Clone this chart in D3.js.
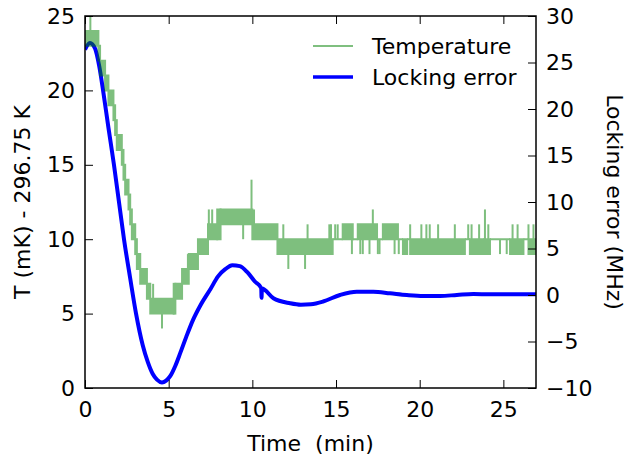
<!DOCTYPE html>
<html>
<head>
<meta charset="utf-8">
<script src="https://cdn.jsdelivr.net/npm/d3@7"></script>
<style>
  body { margin: 0; background: #fff; }
  text { font-family: "DejaVu Sans", sans-serif; }
</style>
</head>
<body>
<svg id="chart" width="636" height="455"></svg>
<script>
// temperature readings (mK above 296.75 K), stepwise: [t0, t1, low, high]
// where low != high the reading flickers between the two levels
const tempBands = [
  [0.00, 0.80, 23, 24], [0.80, 0.90, 22, 23], [0.90, 1.20, 21, 22],
  [1.20, 1.40, 20, 21], [1.40, 1.70, 19, 20], [1.70, 1.80, 18, 19],
  [1.80, 1.90, 17, 18], [1.90, 2.20, 16, 17], [2.20, 2.30, 15, 16],
  [2.30, 2.40, 14, 15], [2.40, 2.60, 13, 14], [2.60, 2.70, 12, 13],
  [2.70, 2.80, 11, 12], [2.80, 3.00, 10, 11], [3.00, 3.10, 9, 10],
  [3.10, 3.30, 8, 9], [3.30, 3.70, 7, 8], [3.70, 3.90, 6, 7],
  [3.90, 5.30, 5, 6], [5.30, 5.40, 5, 7], [5.40, 5.80, 6, 7],
  [5.80, 6.20, 7, 8], [6.20, 6.75, 8, 9], [6.75, 7.35, 9, 10],
  [7.35, 7.90, 10, 11], [7.90, 8.10, 10, 12], [8.10, 10.0, 11, 12],
  [10.0, 11.5, 10, 11], [11.5, 14.8, 9, 10], [14.8, 15.4, 10, 10],
  [15.4, 16.0, 10, 11], [16.0, 16.3, 10, 10], [16.3, 17.45, 10, 11],
  [17.45, 17.8, 10, 10], [17.8, 18.7, 10, 11], [18.7, 19.0, 10, 10],
  [19.0, 19.25, 9, 10], [19.25, 19.43, 10, 10], [19.43, 22.7, 9, 10],
  [22.7, 23.0, 10, 10], [23.0, 23.8, 9, 10], [23.8, 23.9, 10, 10],
  [23.9, 24.2, 9, 10], [24.2, 25.4, 10, 10], [25.4, 26.2, 9, 10],
  [26.2, 26.5, 10, 10], [26.5, 26.95, 9, 10]
];

// single-sample jumps: [t, from, to]
const tempSpikes = [
  [0.32, 24, 25], [4.07, 6, 7], [4.60, 5, 4], [6.15, 8, 9], [6.30, 8, 9],
  [7.40, 11, 12], [7.60, 11, 12], [9.45, 11, 10], [9.95, 12, 14], [10.10, 11, 12],
  [11.85, 10, 11], [12.15, 9, 8], [13.15, 9, 8], [13.30, 10, 11],
  [14.60, 10, 11], [14.70, 10, 11], [14.95, 10, 11], [15.10, 10, 11],
  [15.95, 10, 9], [16.45, 10, 9], [16.60, 10, 9], [17.00, 10, 9], [17.20, 11, 12],
  [17.50, 10, 9], [17.60, 10, 9], [18.50, 10, 9], [18.75, 10, 9],
  [19.43, 10, 11], [20.10, 10, 11], [20.40, 10, 11], [20.60, 10, 11],
  [21.10, 10, 11], [22.10, 10, 11], [22.90, 10, 11], [23.10, 10, 11],
  [23.55, 10, 11], [23.90, 10, 12], [24.10, 10, 11], [24.80, 10, 9],
  [25.20, 10, 9], [25.55, 10, 11], [25.85, 10, 11], [26.50, 10, 11], [26.80, 10, 11]
];

// locking error (MHz): [t, value]
const lockError = [
  [0, 26.4], [0.3, 27.1], [0.6, 26.5], [0.85, 24.6], [1.08, 22.0], [1.4, 18.0],
  [1.73, 14.0], [2.03, 10.0], [2.33, 6.0], [2.7, 1.8], [3.05, -2.0], [3.45, -5.4],
  [3.75, -7.2], [4.05, -8.5], [4.3, -9.1], [4.6, -9.4], [4.85, -9.2], [5.1, -8.7],
  [5.4, -7.6], [5.7, -6.2], [6.05, -4.5], [6.45, -2.7], [6.9, -1.1], [7.5, 0.65],
  [7.95, 2.0], [8.4, 2.8], [8.8, 3.2], [9.25, 3.1], [9.7, 2.45], [10.15, 1.45],
  [10.53, 0.75], [10.55, -0.3], [10.57, 0.7], [11.26, -0.35], [12.25, -0.89],
  [12.9, -1.05], [13.5, -1.0], [14.23, -0.7], [15.24, 0.0], [16.24, 0.35],
  [17.23, 0.35], [18.23, 0.18], [19.23, 0.0], [20.22, -0.1], [21.22, -0.1],
  [22.22, 0.0], [23.21, 0.1], [24.21, 0.08], [25.2, 0.08], [26.95, 0.08]
];

const xTicks = [0, 5, 10, 15, 20, 25];
const yLeftTicks = [0, 5, 10, 15, 20, 25];
const yRightTicks = [-10, -5, 0, 5, 10, 15, 20, 25, 30];
const legendItems = ["Temperature", "Locking error"];

// layout
const margin = { left: 85, right: 100, top: 16, bottom: 67 };
const width = 636, height = 455;
const plotW = width - margin.left - margin.right;
const plotH = height - margin.top - margin.bottom;

const svg = d3.select("svg#chart");

const x = d3.scaleLinear().domain([0, 26.95]).range([margin.left, margin.left + plotW]);
const yL = d3.scaleLinear().domain([0, 25]).range([margin.top + plotH, margin.top]);
const yR = d3.scaleLinear().domain([-10, 30]).range([margin.top + plotH, margin.top]);

svg.append("defs").append("clipPath").attr("id", "plot-clip")
  .append("rect")
  .attr("x", margin.left).attr("y", margin.top)
  .attr("width", plotW).attr("height", plotH);

const plot = svg.append("g").attr("clip-path", "url(#plot-clip)");

// locking error underneath
plot.append("path")
  .datum(lockError)
  .attr("fill", "none")
  .attr("stroke", "#0000ff")
  .attr("stroke-width", 4)
  .attr("stroke-linejoin", "round")
  .attr("d", d3.line().x(d => x(d[0])).y(d => yR(d[1])).curve(d3.curveMonotoneX));

// temperature on top, half transparent
const temp = plot.append("g").attr("opacity", 0.5);
temp.selectAll("path.band")
  .data(tempBands)
  .enter().append("path")
  .attr("class", "band")
  .attr("fill", "#008000")
  .attr("stroke", "#008000")
  .attr("stroke-width", 2)
  .attr("d", d => {
    const x0 = x(d[0]), x1 = x(d[1]), ylo = yL(d[2]), yhi = yL(d[3]);
    return "M" + x0 + "," + yhi + "H" + x1 + "V" + ylo + "H" + x0 + "Z";
  });
temp.selectAll("line.spike")
  .data(tempSpikes)
  .enter().append("line")
  .attr("class", "spike")
  .attr("x1", d => x(d[0])).attr("x2", d => x(d[0]))
  .attr("y1", d => yL(d[1])).attr("y2", d => yL(d[2]))
  .attr("stroke", "#008000")
  .attr("stroke-width", 2);

// axes, ticks pointing inward
const fontSize = 22;
function styleAxis(g) {
  g.select(".domain").remove();
  g.selectAll(".tick line").attr("stroke", "#000").attr("stroke-width", 1);
  g.selectAll(".tick text").attr("font-size", fontSize).attr("fill", "#000")
    .attr("font-family", "DejaVu Sans, sans-serif");
}

svg.append("g")
  .attr("transform", "translate(0," + (margin.top + plotH) + ")")
  .call(d3.axisBottom(x).tickValues(xTicks).tickSizeInner(-8).tickSizeOuter(0).tickPadding(13))
  .call(styleAxis);

svg.append("g")
  .attr("transform", "translate(0," + margin.top + ")")
  .call(d3.axisTop(x).tickValues(xTicks).tickSizeInner(-8).tickSizeOuter(0).tickFormat(""))
  .call(styleAxis);

svg.append("g")
  .attr("transform", "translate(" + margin.left + ",0)")
  .call(d3.axisLeft(yL).tickValues(yLeftTicks).tickSizeInner(-8).tickSizeOuter(0).tickPadding(10))
  .call(styleAxis);

svg.append("g")
  .attr("transform", "translate(" + (margin.left + plotW) + ",0)")
  .call(d3.axisRight(yR).tickValues(yRightTicks).tickSizeInner(-8).tickSizeOuter(0).tickPadding(10))
  .call(styleAxis);

// frame
svg.append("rect")
  .attr("x", margin.left).attr("y", margin.top)
  .attr("width", plotW).attr("height", plotH)
  .attr("fill", "none").attr("stroke", "#000").attr("stroke-width", 1.5);

// axis labels
svg.append("text")
  .attr("x", margin.left + plotW / 2).attr("y", 451)
  .attr("text-anchor", "middle")
  .attr("font-size", fontSize)
  .style("white-space", "pre")
  .text("Time  (min)");

svg.append("text")
  .attr("transform", "translate(30," + (margin.top + plotH / 2) + ") rotate(-90)")
  .attr("text-anchor", "middle")
  .attr("font-size", fontSize)
  .text("T (mK) - 296.75 K");

svg.append("text")
  .attr("transform", "translate(607," + (margin.top + plotH / 2) + ") rotate(90)")
  .attr("text-anchor", "middle")
  .attr("font-size", fontSize)
  .text("Locking error (MHz)");

// legend
const legendColors = ["#008000", "#0000ff"];
const legendOpacity = [0.5, 1];
const legend = svg.append("g");
legendItems.forEach((name, i) => {
  const ly = 46 + i * 31;
  legend.append("line")
    .attr("x1", 313).attr("x2", 353).attr("y1", ly).attr("y2", ly)
    .attr("stroke", legendColors[i])
    .attr("stroke-opacity", legendOpacity[i])
    .attr("stroke-width", i === 0 ? 2 : 3.5);
  legend.append("text")
    .attr("x", 372).attr("y", ly + 8)
    .attr("font-size", fontSize)
    .text(name);
});
</script>
</body>
</html>
